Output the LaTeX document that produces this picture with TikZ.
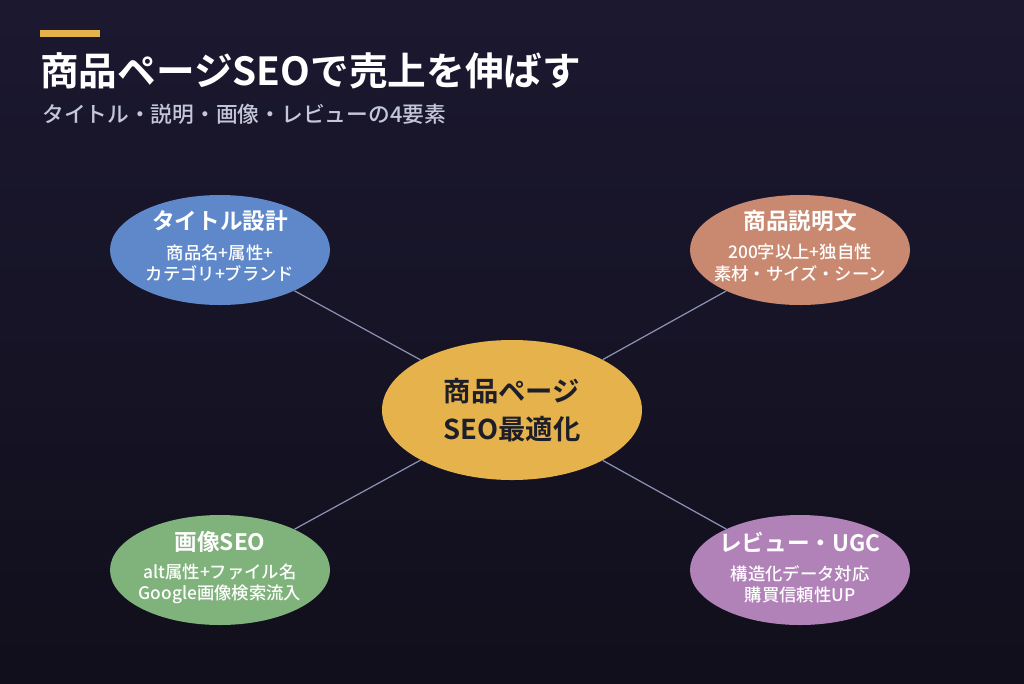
\documentclass[tikz,border=0pt]{standalone}
\usepackage{fontspec}
\setmainfont{Noto Sans CJK JP}
\newfontfamily\jpb{Noto Sans CJK JP Bold}
\newfontfamily\jpm{Noto Sans CJK JP Medium}
\usetikzlibrary{shapes.geometric}
\definecolor{bgtop}{HTML}{1B1830}
\definecolor{bgbot}{HTML}{110F1B}
\definecolor{gold}{HTML}{E5B24B}
\definecolor{cblue}{HTML}{5E88C9}
\definecolor{corange}{HTML}{C98970}
\definecolor{cgreen}{HTML}{80B27C}
\definecolor{cpurple}{HTML}{B182B8}
\definecolor{linec}{HTML}{8C93B4}
\definecolor{subc}{HTML}{C5C6D6}
\begin{document}
\begin{tikzpicture}[x=0.75pt,y=-0.75pt,
  bub/.style={ellipse,minimum width=220*0.75pt,minimum height=110*0.75pt,inner sep=0pt,text=white,align=center},
  conn/.style={draw=linec,line width=0.9pt}]
\useasboundingbox (0,0) rectangle (1024,683);
\shade[top color=bgtop,bottom color=bgbot] (0,0) rectangle (1024,683);
\fill[gold] (40,30) rectangle (100,37);
\node[anchor=base west,inner sep=0pt,text=white,font=\jpb\fontsize{29pt}{34pt}\selectfont] (title) at (40,85) {商品ページSEOで売上を伸ばす};
\node[anchor=base west,inner sep=0pt,text=subc,font=\jpm\fontsize{16.3pt}{20pt}\selectfont] (sub) at (42,122) {タイトル・説明・画像・レビューの4要素};
\node[ellipse,fill=gold,minimum width=260*0.75pt,minimum height=140*0.75pt,inner sep=0pt,align=center,text={rgb,255:red,30;green,30;blue,40},font=\jpb\fontsize{20.5pt}{28pt}\selectfont] (c) at (512,410) {商品ページ\\SEO最適化};
\node[bub,fill=cblue] (a) at (220,250) {};
\node[bub,fill=corange] (b) at (800,250) {};
\node[bub,fill=cgreen] (d) at (220,570) {};
\node[bub,fill=cpurple] (e) at (800,570) {};
\foreach \n in {a,b,d,e}{\path[conn] (c) -- (\n);}
\tikzset{ttl/.style={text=white,font=\jpb\fontsize{17pt}{20pt}\selectfont,inner sep=0pt},
 bdy/.style={text=white,font=\jpm\fontsize{13pt}{16pt}\selectfont,align=center,inner sep=0pt}}
\node[ttl] (at) at (220,221) {タイトル設計};
\node[bdy] (ab) at (220,263) {商品名+属性+\\カテゴリ+ブランド};
\node[ttl] (bt) at (800,221) {商品説明文};
\node[bdy] (bb) at (800,263) {200字以上+独自性\\素材・サイズ・シーン};
\node[ttl] (dt) at (220,542) {画像SEO};
\node[bdy] (db) at (220,584) {alt属性+ファイル名\\Google画像検索流入};
\node[ttl] (et) at (800,542) {レビュー・UGC};
\node[bdy] (eb) at (800,584) {構造化データ対応\\購買信頼性UP};
\end{tikzpicture}
\end{document}
